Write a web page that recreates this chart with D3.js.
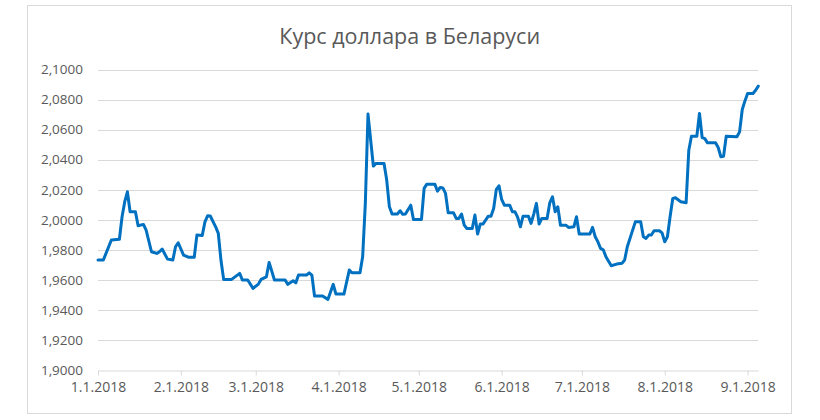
<!DOCTYPE html>
<html>
<head>
<meta charset="utf-8">
<title>Курс доллара</title>
<script src="https://d3js.org/d3.v7.min.js"></script>
<style>
  body { margin: 0; background: #fff; }
  text { font-family: "Open Sans", sans-serif; fill: #595959; }
</style>
</head>
<body>
<script>
// dates and official rate (BYN per USD)
var dates = [
  "2018-01-01","2018-01-03","2018-01-06","2018-01-09","2018-01-10","2018-01-11","2018-01-12",
  "2018-01-13","2018-01-15","2018-01-16","2018-01-18","2018-01-19","2018-01-21","2018-01-23",
  "2018-01-24","2018-01-25","2018-01-27","2018-01-29","2018-01-30","2018-01-31",
  "2018-02-02","2018-02-04","2018-02-06","2018-02-07","2018-02-09","2018-02-10","2018-02-11",
  "2018-02-12","2018-02-14","2018-02-15","2018-02-16","2018-02-17","2018-02-20","2018-02-23",
  "2018-02-24","2018-02-26","2018-02-28",
  "2018-03-02","2018-03-03","2018-03-05","2018-03-06","2018-03-08","2018-03-12","2018-03-13",
  "2018-03-15","2018-03-16","2018-03-17","2018-03-20","2018-03-21","2018-03-22","2018-03-23",
  "2018-03-26","2018-03-28","2018-03-30","2018-03-31",
  "2018-04-03","2018-04-05","2018-04-06","2018-04-09","2018-04-10","2018-04-11","2018-04-12",
  "2018-04-14","2018-04-15","2018-04-18","2018-04-19","2018-04-20","2018-04-21","2018-04-23",
  "2018-04-24","2018-04-25","2018-04-26","2018-04-28","2018-04-29",
  "2018-05-02","2018-05-03","2018-05-04","2018-05-07","2018-05-08","2018-05-09","2018-05-10",
  "2018-05-11","2018-05-12","2018-05-14","2018-05-15","2018-05-16","2018-05-17","2018-05-18",
  "2018-05-19","2018-05-21","2018-05-22","2018-05-23","2018-05-24","2018-05-25","2018-05-27",
  "2018-05-28","2018-05-29","2018-05-30","2018-05-31",
  "2018-06-01","2018-06-02","2018-06-04","2018-06-05","2018-06-06","2018-06-07","2018-06-08",
  "2018-06-09","2018-06-11","2018-06-12","2018-06-13","2018-06-14","2018-06-15","2018-06-16",
  "2018-06-18","2018-06-19","2018-06-20","2018-06-21","2018-06-22","2018-06-23","2018-06-25",
  "2018-06-26","2018-06-28","2018-06-29","2018-06-30",
  "2018-07-04","2018-07-05","2018-07-06","2018-07-07","2018-07-08","2018-07-09","2018-07-10",
  "2018-07-12","2018-07-14","2018-07-16","2018-07-17","2018-07-18","2018-07-20","2018-07-21",
  "2018-07-23","2018-07-24","2018-07-25","2018-07-26","2018-07-27","2018-07-28","2018-07-30",
  "2018-07-31",
  "2018-08-01","2018-08-02","2018-08-03","2018-08-04","2018-08-05","2018-08-07","2018-08-09",
  "2018-08-10","2018-08-11","2018-08-13","2018-08-14","2018-08-15","2018-08-16","2018-08-17",
  "2018-08-20","2018-08-21","2018-08-22","2018-08-23","2018-08-24","2018-08-28","2018-08-29",
  "2018-08-30","2018-08-31",
  "2018-09-01","2018-09-03","2018-09-04","2018-09-05"
];
var rates = [
  1.9732,1.9732,1.9865,1.9870,2.0020,2.0120,2.0186,
  2.0053,2.0053,1.9960,1.9969,1.9931,1.9787,1.9776,
  1.9787,1.9805,1.9738,1.9732,1.9820,1.9847,
  1.9765,1.9750,1.9750,1.9898,1.9895,1.9986,2.0026,
  2.0025,1.9953,1.9909,1.9730,1.9603,1.9603,1.9643,
  1.9599,1.9599,1.9543,
  1.9572,1.9603,1.9620,1.9716,1.9599,1.9599,1.9570,
  1.9594,1.9580,1.9632,1.9632,1.9647,1.9632,1.9492,
  1.9492,1.9470,1.9570,1.9505,
  1.9505,1.9665,1.9647,1.9647,1.9754,2.0109,2.0703,
  2.0357,2.0375,2.0375,2.0264,2.0086,2.0038,2.0038,
  2.0060,2.0036,2.0038,2.0097,2.0002,
  2.0002,2.0209,2.0237,2.0237,2.0190,2.0215,2.0212,
  2.0175,2.0046,2.0046,2.0009,2.0009,2.0038,1.9964,
  1.9942,1.9942,2.0031,1.9905,1.9971,1.9971,2.0024,
  2.0024,2.0075,2.0202,2.0226,
  2.0135,2.0097,2.0097,2.0053,2.0053,2.0016,1.9953,
  2.0024,2.0024,1.9976,2.0038,2.0109,1.9971,2.0009,
  2.0009,2.0113,2.0153,2.0053,2.0086,1.9964,1.9964,
  1.9949,1.9953,2.0020,1.9905,
  1.9905,1.9949,1.9887,1.9853,1.9809,1.9800,1.9754,
  1.9694,1.9705,1.9710,1.9732,1.9820,1.9931,1.9986,
  1.9986,1.9887,1.9876,1.9898,1.9898,1.9927,1.9927,
  1.9913,
  1.9853,1.9887,2.0020,2.0142,2.0146,2.0120,2.0113,
  2.0463,2.0556,2.0556,2.0707,2.0547,2.0540,2.0512,
  2.0512,2.0481,2.0419,2.0422,2.0556,2.0553,2.0585,
  2.0734,2.0791,
  2.0840,2.0840,2.0862,2.0889
];
var xTicks = ["2018-01-01","2018-02-01","2018-03-01","2018-04-01","2018-05-01",
  "2018-06-01","2018-07-01","2018-08-01","2018-09-01"];
var yTicks = [1.90,1.92,1.94,1.96,1.98,2.00,2.02,2.04,2.06,2.08,2.10];
var title = "Курс доллара в Беларуси";

var W = 820, H = 420;
var parse = d3.utcParse("%Y-%m-%d");
var data = dates.map(function(d, i) { return { date: parse(d), v: rates[i] }; });

var svg = d3.select("body").append("svg")
  .attr("width", W).attr("height", H);

// chart frame
svg.append("rect")
  .attr("x", 27.5).attr("y", 5.5)
  .attr("width", 764).attr("height", 408)
  .attr("fill", "#fff").attr("stroke", "#d9d9d9");

var x = d3.scaleUtc()
  .domain(d3.extent(data, function(d) { return d.date; }))
  .range([98, 758.3]);
var y = d3.scaleLinear()
  .domain([1.9, 2.1])
  .range([370, 69.5]);

// gridlines
svg.append("g").selectAll("line")
  .data(yTicks.slice(1))
  .enter().append("line")
  .attr("x1", 98).attr("x2", 758.3)
  .attr("y1", function(d) { return Math.round(y(d)) + 0.5; })
  .attr("y2", function(d) { return Math.round(y(d)) + 0.5; })
  .attr("stroke", "#d9d9d9").attr("stroke-width", 1);

// y labels
var fmtY = function(d) { return d3.format(".4f")(d).replace(".", ","); };
svg.append("g").selectAll("text")
  .data(yTicks)
  .enter().append("text")
  .attr("x", 83)
  .attr("y", function(d) { return y(d) + 4.8; })
  .attr("text-anchor", "end")
  .style("font-size", "13.5px")
  .text(fmtY);

// x axis
var xAxis = d3.axisBottom(x)
  .tickValues(xTicks.map(parse))
  .tickFormat(d3.utcFormat("%-m.%-d.%Y"))
  .tickSizeInner(5).tickSizeOuter(0).tickPadding(7);
var gx = svg.append("g")
  .attr("transform", "translate(0," + Math.round(y(1.9)) + ".5)")
  .call(xAxis);
gx.select(".domain").attr("stroke", "#d9d9d9");
gx.selectAll(".tick line").attr("stroke", "#d9d9d9");
gx.selectAll(".tick text")
  .style("font-family", "'Open Sans', sans-serif")
  .style("font-size", "14px")
  .attr("fill", "#595959");

// line
var line = d3.line()
  .x(function(d) { return x(d.date); })
  .y(function(d) { return y(d.v); });
svg.append("path")
  .datum(data)
  .attr("d", line)
  .attr("fill", "none")
  .attr("stroke", "#0070c0")
  .attr("stroke-width", 3)
  .attr("stroke-linejoin", "round")
  .attr("stroke-linecap", "round");

// title
svg.append("text")
  .attr("x", 409.7).attr("y", 43.5)
  .attr("text-anchor", "middle")
  .style("font-size", "21.5px")
  .text(title);
</script>
</body>
</html>
